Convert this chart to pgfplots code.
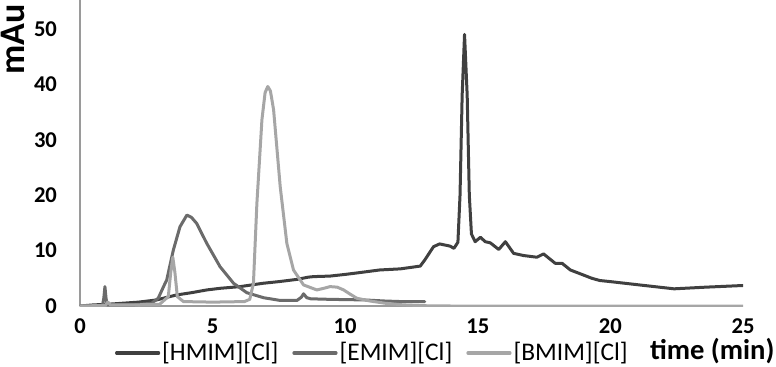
\documentclass[border=0pt]{standalone}
\usepackage{pgfplots}
\pgfplotsset{compat=1.18}
\usepackage{fontspec}
\setmainfont{Carlito}
\definecolor{hmim}{HTML}{404040}
\definecolor{emim}{HTML}{6B6B6B}
\definecolor{bmim}{HTML}{A6A6A6}
\definecolor{axgray}{HTML}{9A9A9A}
\begin{document}
\begin{tikzpicture}[x=1pt,y=1pt]
\useasboundingbox (0,0) rectangle (388,183);
\begin{axis}[
  at={(40pt,30pt)}, anchor=south west,
  scale only axis, width=331.5pt, height=153pt,
  xmin=0, xmax=25, ymin=0, ymax=55.2,
  axis x line=bottom, axis y line=left,
  axis line style={draw=axgray, line width=0.7pt, -},
  xtick={0,5,...,25}, ytick={0,10,...,50},
  major tick length=0pt,
  /pgf/number format/assume math mode=true,
  tick label style={font=\bfseries\fontsize{11.3}{13}\selectfont, text=black},
  yticklabel style={xshift=-8pt},
  xticklabel style={yshift=-3pt},
  xlabel={time (min)},
  xlabel style={at={(axis description cs:1.048,-0.176)}, anchor=base east, inner sep=0pt, font=\bfseries\fontsize{14.3}{16}\selectfont},
  ylabel={mAu},
  ylabel style={at={(axis description cs:-0.083,0.755)}, anchor=base west, inner sep=0pt, font=\bfseries\fontsize{18}{20}\selectfont},
  legend columns=3,
  legend style={draw=none, fill=none, inner sep=0pt, outer sep=0pt,
    at={(axis description cs:0.0528,-0.1536)}, anchor=west,
    font=\fontsize{12.7}{14}\selectfont,
    /tikz/every even column/.append style={column sep=6pt},
    nodes={inner sep=1pt}},
  legend image code/.code={\draw[#1, line width=1.6pt] (0pt,0pt) -- (21pt,0pt);},
  every axis plot/.append style={line width=1.5pt, line join=round, line cap=round},
]
\addplot[hmim] coordinates {
(0,0) (0.5,0.2) (1.0,0.3) (1.6,0.5) (2.2,0.7) (2.9,1.1) (3.3,1.6) (3.65,2.0) (4.2,2.4) (4.78,2.9) (5.3,3.2) (6.04,3.5) (6.9,4.1) (7.5,4.4) (8.18,4.8) (8.6,5.2) (8.8,5.3) (9.43,5.4) (10.0,5.7) (10.5,6.0) (11.3,6.5) (12.08,6.7) (12.83,7.2) (13.0,8.3) (13.33,10.7) (13.56,11.2) (13.96,10.8) (14.1,10.4) (14.25,11.5) (14.33,20) (14.41,38) (14.5,49) (14.6,38) (14.68,20) (14.76,13) (14.9,11.6) (15.1,12.4) (15.28,11.6) (15.47,11.4) (15.79,10.2) (16.04,11.6) (16.35,9.5) (16.73,9.1) (17.23,8.8) (17.48,9.4) (17.92,7.7) (18.18,7.7) (18.49,6.5) (18.87,5.8) (19.3,5.0) (19.6,4.6) (20.0,4.4) (21.1,3.8) (22.4,3.1) (23.6,3.4) (25.0,3.7)
};
\addlegendentry{[HMIM][Cl]}
\addplot[emim] coordinates {
(0,0) (0.85,0.1) (0.9,1.5) (0.94,3.5) (0.98,1.5) (1.02,0.2) (2.0,0.2) (2.7,0.5) (2.95,1.4) (3.15,3.5) (3.27,4.7) (3.52,10.1) (3.77,14.3) (4.03,16.4) (4.2,16.0) (4.4,14.9) (4.78,11.3) (5.28,7.1) (5.79,4.1) (6.29,2.4) (6.92,1.5) (7.55,1.0) (8.18,1.0) (8.35,1.6) (8.43,2.2) (8.55,1.5) (8.7,1.3) (9.43,1.2) (10.7,1.1) (11.5,0.9) (12.1,0.8) (13.0,0.8)
};
\addlegendentry{[EMIM][Cl]}
\addplot[bmim] coordinates {
(0,0) (0.95,0.1) (1.05,0.7) (1.15,0.2) (2.0,0.2) (3.0,0.3) (3.33,1.7) (3.42,6) (3.5,8.8) (3.58,6) (3.67,1.7) (3.9,0.8) (5,0.7) (6.2,0.8) (6.4,1.2) (6.54,4.1) (6.67,18.5) (6.86,33.6) (6.98,38.5) (7.08,39.6) (7.18,38.8) (7.3,35.4) (7.55,21.5) (7.8,11.3) (8.05,6.5) (8.43,3.8) (8.93,2.9) (9.2,3.2) (9.43,3.5) (9.7,3.4) (9.94,2.9) (10.2,2.1) (10.44,1.4) (10.94,0.9) (11.5,0.5) (12.2,0.2) (13,0.05) (14,0) (25,0)
};
\addlegendentry{[BMIM][Cl]}
\end{axis}
\end{tikzpicture}
\end{document}
